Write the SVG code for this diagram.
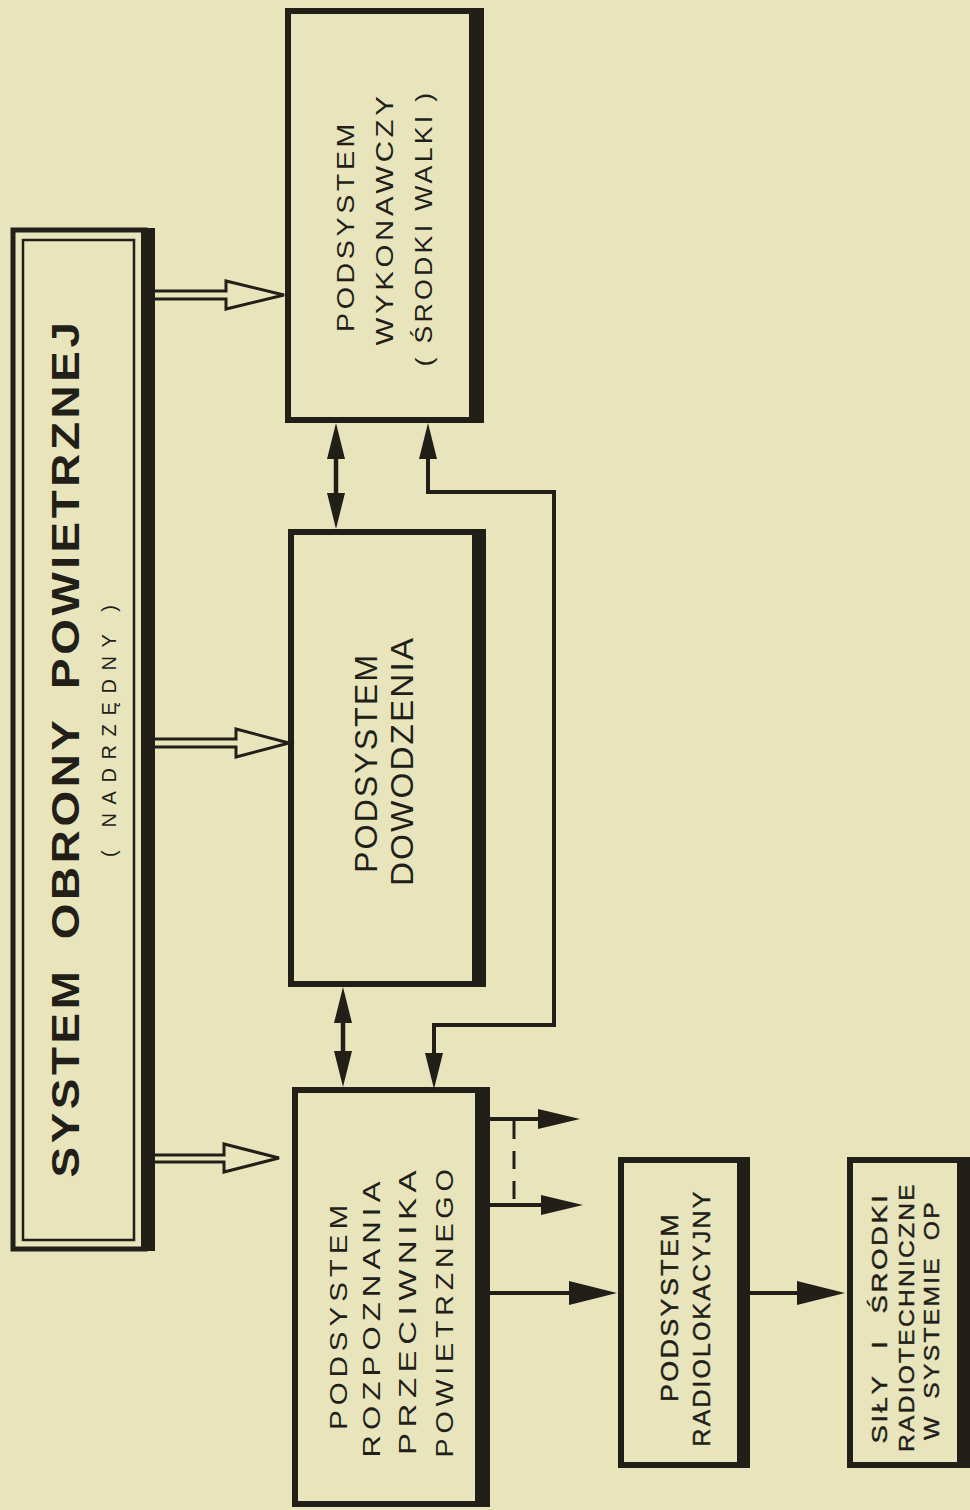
<svg xmlns="http://www.w3.org/2000/svg" width="970" height="1510" viewBox="0 0 970 1510">
<defs>
<style>
.ink{fill:#221e18}
.box{fill:none;stroke:#221e18;stroke-width:6}
.inner{fill:none;stroke:#221e18;stroke-width:2.5}
.lbl{font-family:"Liberation Sans","DejaVu Sans",sans-serif;fill:#221e18;text-anchor:middle;dominant-baseline:central}
.title{font-weight:bold;letter-spacing:3px;word-spacing:10px}
.sp4{letter-spacing:4px}
.sp3{letter-spacing:3px}
.sp2{letter-spacing:2px}
.med{stroke:#221e18;stroke-width:0.4}
.con{fill:none;stroke:#221e18;stroke-width:4.5}
.thin{fill:none;stroke:#221e18;stroke-width:4}
.dash{fill:none;stroke:#221e18;stroke-width:3;stroke-dasharray:18 12}
.hollow{fill:#e8e5bd;stroke:#221e18;stroke-width:3;stroke-linejoin:miter}
</style>
<marker id="ah" viewBox="0 0 36 18" refX="24" refY="9" markerWidth="36" markerHeight="18" markerUnits="userSpaceOnUse" orient="auto-start-reverse">
<path d="M0,0 L36,9 L0,18 Z" fill="#221e18"/>
</marker>
<marker id="ahM" viewBox="0 0 42 20" refX="30" refY="10" markerWidth="42" markerHeight="20" markerUnits="userSpaceOnUse" orient="auto-start-reverse">
<path d="M0,0 L42,10 L0,20 Z" fill="#221e18"/>
</marker>
<marker id="ahL" viewBox="0 0 48 24" refX="36" refY="12" markerWidth="48" markerHeight="24" markerUnits="userSpaceOnUse" orient="auto-start-reverse">
<path d="M0,0 L48,12 L0,24 Z" fill="#221e18"/>
</marker>
</defs>
<rect x="0" y="0" width="970" height="1510" fill="#e8e5bd"/>

<g id="system">
<rect class="box" x="13" y="230" width="132" height="1019" style="stroke-width:5"/>
<rect class="ink" x="141" y="228" width="14" height="1023"/>
<rect class="inner" x="23" y="240" width="111" height="1000"/>
<text class="lbl title" x="66" y="748" transform="rotate(-90 66 748)" font-size="38" textLength="859" lengthAdjust="spacingAndGlyphs">SYSTEM OBRONY POWIETRZNEJ</text>
<text class="lbl" x="109" y="731" transform="rotate(-90 109 731)" font-size="20" textLength="252" lengthAdjust="spacing">( NADRZĘDNY )</text>
</g>

<g id="exec">
<rect class="box" x="288" y="11" width="190" height="409"/>
<rect class="ink" x="469" y="8" width="15" height="415"/>
<text class="lbl sp3" x="345" y="226" transform="rotate(-90 345 226)" font-size="24" textLength="212" lengthAdjust="spacingAndGlyphs">PODSYSTEM</text>
<text class="lbl sp3" x="384" y="219" transform="rotate(-90 384 219)" font-size="24" textLength="253" lengthAdjust="spacingAndGlyphs">WYKONAWCZY</text>
<text class="lbl sp3" x="423" y="228" transform="rotate(-90 423 228)" font-size="24" textLength="277" lengthAdjust="spacingAndGlyphs">( ŚRODKI WALKI )</text>
</g>

<g id="command">
<rect class="box" x="291" y="532" width="188" height="452"/>
<rect class="ink" x="472" y="529" width="14" height="458"/>
<text class="lbl sp2" x="366" y="763" transform="rotate(-90 366 763)" font-size="32" textLength="220" lengthAdjust="spacingAndGlyphs">PODSYSTEM</text>
<text class="lbl sp2" x="402" y="761" transform="rotate(-90 402 761)" font-size="32" textLength="250" lengthAdjust="spacingAndGlyphs">DOWODZENIA</text>
</g>

<g id="recon">
<rect class="box" x="295" y="1090" width="186" height="414"/>
<rect class="ink" x="475" y="1087" width="15" height="420"/>
<text class="lbl sp4" x="338" y="1315" transform="rotate(-90 338 1315)" font-size="24" textLength="230" lengthAdjust="spacingAndGlyphs">PODSYSTEM</text>
<text class="lbl sp4" x="371" y="1317" transform="rotate(-90 371 1317)" font-size="24" textLength="281" lengthAdjust="spacingAndGlyphs">ROZPOZNANIA</text>
<text class="lbl sp4" x="407" y="1310" transform="rotate(-90 407 1310)" font-size="24" textLength="290" lengthAdjust="spacingAndGlyphs">PRZECIWNIKA</text>
<text class="lbl sp4" x="444" y="1311" transform="rotate(-90 444 1311)" font-size="24" textLength="293" lengthAdjust="spacingAndGlyphs">POWIETRZNEGO</text>
</g>

<g id="radar">
<rect class="box" x="621" y="1160" width="120" height="305"/>
<rect class="ink" x="737" y="1157" width="13" height="311"/>
<text class="lbl sp2 med" x="670" y="1307" transform="rotate(-90 670 1307)" font-size="23" textLength="190" lengthAdjust="spacingAndGlyphs">PODSYSTEM</text>
<text class="lbl sp2 med" x="702" y="1318" transform="rotate(-90 702 1318)" font-size="23" textLength="257" lengthAdjust="spacingAndGlyphs">RADIOLOKACYJNY</text>
</g>

<g id="radiotech">
<rect class="box" x="850" y="1160" width="112" height="305"/>
<rect class="ink" x="957" y="1157" width="13" height="311"/>
<text class="lbl sp2 med" x="879" y="1318" transform="rotate(-90 879 1318)" font-size="22" textLength="251" lengthAdjust="spacingAndGlyphs" style="word-spacing:12px">SIŁY I ŚRODKI</text>
<text class="lbl sp2 med" x="906" y="1317" transform="rotate(-90 906 1317)" font-size="22" textLength="270" lengthAdjust="spacingAndGlyphs">RADIOTECHNICZNE</text>
<text class="lbl sp2 med" x="931" y="1320" transform="rotate(-90 931 1320)" font-size="22" textLength="240" lengthAdjust="spacingAndGlyphs" style="word-spacing:6px">W SYSTEMIE OP</text>
</g>

<g id="connectors">
<path class="hollow" d="M155,291 L226,291 L226,281 L284,295 L226,309 L226,299 L155,299"/>
<path class="hollow" d="M155,739 L236,739 L236,729 L289,743 L236,757 L236,747 L155,747"/>
<path class="hollow" d="M155,1155 L224,1155 L224,1144 L279,1158 L224,1172 L224,1162 L155,1162"/>
<path class="con" d="M336,435 L336,517" marker-start="url(#ah)" marker-end="url(#ah)"/>
<path class="con" d="M343,999 L343,1075" marker-start="url(#ah)" marker-end="url(#ah)"/>
<path class="thin" d="M428,435 L428,492 L554,492 L554,1025 L434,1025 L434,1077" marker-start="url(#ah)" marker-end="url(#ah)"/>
<path class="thin" d="M490,1119 L568,1119" marker-end="url(#ahM)"/>
<path class="thin" d="M490,1205 L571,1205" marker-end="url(#ahM)"/>
<path class="dash" d="M514,1121 L514,1205"/>
<path class="thin" d="M490,1293 L605,1293" marker-end="url(#ahL)"/>
<path class="thin" d="M750,1293 L833,1293" marker-end="url(#ahL)"/>
</g>
</svg>
